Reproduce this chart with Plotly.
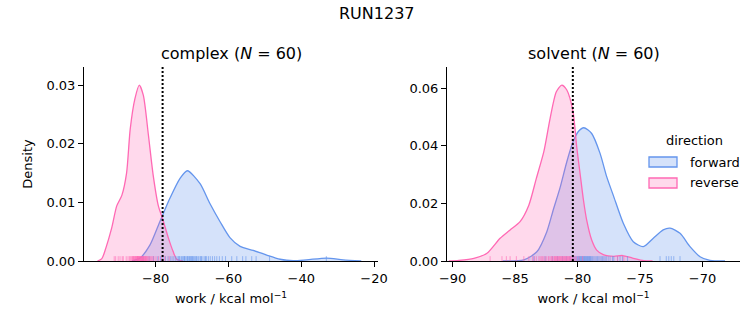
import plotly.graph_objects as go

W, H = 753, 325

# ---------------- data ----------------
phases = ["complex", "solvent"]
n_samples = [60, 60]
fe_estimate = [-78.1, -80.38]  # dotted vertical lines

# KDE curves (work in kcal/mol, density)
complex_fwd_x = [-86.5, -84.3, -81.6, -78.8, -76.1, -73.3, -71.3, -67.8, -65.1, -62.3, -59.6,
                 -56.8, -53.2, -49.5, -45.8, -42.2, -38.5, -33.0, -28.5, -23.5]
complex_fwd_d = [0.0, 0.0005, 0.0027, 0.0068, 0.0107, 0.0141, 0.0154, 0.0132, 0.0098, 0.0067, 0.0040,
                 0.0025, 0.0018, 0.0010, 0.0003, 0.00005, 0.0002, 0.0005, 0.0002, 0.0]
complex_rev_x = [-96.0, -94.8, -93.7, -92.1, -90.7, -89.3, -88.0, -87.0, -85.7, -84.5, -83.4,
                 -82.0, -80.7, -79.3, -78.1, -76.5, -75.2, -74.2, -72.5]
complex_rev_d = [0.0, 0.0004, 0.0022, 0.0056, 0.0094, 0.0112, 0.0150, 0.0225, 0.0277, 0.0300, 0.0283,
                 0.0215, 0.0147, 0.0095, 0.0072, 0.0039, 0.0016, 0.0003, 0.0]

solvent_fwd_x = [-86.0, -84.3, -83.26, -82.46, -81.93, -81.4, -80.86, -80.36, -79.94, -79.5, -78.87,
                 -78.2, -77.67, -77.14, -76.34, -75.54, -74.74, -73.94, -73.15, -72.6, -71.8, -71.0,
                 -70.2, -69.4, -68.2]
solvent_fwd_d = [0.0, 0.0004, 0.0032, 0.0102, 0.0180, 0.0255, 0.0345, 0.0414, 0.0450, 0.0463, 0.0443,
                 0.0374, 0.0293, 0.0228, 0.0131, 0.0067, 0.0050, 0.0079, 0.0108, 0.0114, 0.0096, 0.0050,
                 0.0015, 0.0002, 0.0]
solvent_rev_x = [-90.3, -89.5, -88.3, -87.25, -86.2, -85.4, -84.6, -83.9, -83.3, -82.7, -82.2, -81.7,
                 -81.26, -80.86, -80.36, -80.07, -79.8, -79.53, -79.27, -78.87, -78.47, -77.9, -77.1,
                 -76.4, -75.6, -74.7, -74.0]
solvent_rev_d = [0.0, 0.0002, 0.0009, 0.0027, 0.0079, 0.0108, 0.0137, 0.0194, 0.0287, 0.0380, 0.0495,
                 0.0588, 0.0611, 0.0594, 0.0518, 0.0397, 0.0304, 0.0212, 0.0142, 0.0073, 0.0038, 0.0021,
                 0.0016, 0.0019, 0.0010, 0.0001, 0.0]

# individual work values (rug), estimated from the tick marks
complex_fwd_w = [-83.5, -81.8, -80.6, -79.4, -78.7, -78.0, -77.3, -76.6, -76.0, -75.5, -75.0, -74.5,
                 -74.1, -73.7, -73.5, -73.3, -72.9, -72.6, -72.3, -72.1, -72.0, -71.7, -71.4, -71.2,
                 -71.1, -70.8, -70.6, -70.5, -70.2, -70.0, -69.9, -69.6, -69.3, -69.0, -68.8, -68.6,
                 -68.2, -67.8, -67.6, -67.4, -67.0, -66.5, -66.3, -66.0, -65.5, -65.0, -64.4, -63.8,
                 -63.2, -62.5, -61.7, -60.8, -59.1, -57.7, -56.1, -55.2, -53.6, -52.4, -48.7, -33.1]
complex_rev_w = [-91.4, -91.0, -90.3, -89.8, -89.2, -88.9, -88.1, -87.6, -87.2, -86.9, -86.6, -86.4,
                 -86.3, -86.1, -86.0, -85.9, -85.7, -85.6, -85.5, -85.3, -85.2, -85.1, -85.0, -84.95,
                 -84.9, -84.8, -84.7, -84.6, -84.5, -84.4, -84.3, -84.2, -84.1, -84.0, -83.9, -83.8,
                 -83.7, -83.6, -83.5, -83.4, -83.3, -83.2, -83.1, -82.9, -82.8, -82.7, -82.5, -82.4,
                 -82.2, -82.0, -81.7, -81.4, -81.1, -80.8, -80.5, -79.9, -79.2, -78.4, -77.5, -76.3]
solvent_fwd_w = [-83.5, -82.6, -82.0, -81.6, -81.2, -80.9, -80.6, -80.4, -80.3, -80.2, -80.1, -80.0,
                 -79.95, -79.9, -79.85, -79.8, -79.75, -79.7, -79.65, -79.6, -79.55, -79.5, -79.45,
                 -79.4, -79.35, -79.3, -79.25, -79.2, -79.15, -79.1, -79.05, -79.0, -78.95, -78.9,
                 -78.8, -78.7, -78.6, -78.5, -78.4, -78.3, -78.2, -78.1, -78.0, -77.9, -77.8, -77.7,
                 -77.55, -77.4, -77.2, -77.1, -76.8, -76.6, -76.4, -76.0, -73.4, -72.9, -72.7, -72.5,
                 -72.3, -71.8]
solvent_rev_w = [-87.0, -86.05, -85.7, -85.4, -84.9, -84.3, -83.9, -83.6, -83.45, -83.3, -83.1, -83.0,
                 -82.9, -82.8, -82.7, -82.6, -82.5, -82.35, -82.3, -82.2, -82.1, -82.05, -82.0, -81.9,
                 -81.85, -81.8, -81.75, -81.7, -81.65, -81.6, -81.55, -81.5, -81.45, -81.4, -81.35,
                 -81.3, -81.25, -81.2, -81.15, -81.1, -81.05, -81.0, -80.95, -80.9, -80.85, -80.8,
                 -80.75, -80.7, -80.65, -80.6, -80.55, -80.5, -80.4, -80.3, -80.2, -80.1, -79.9, -79.6,
                 -76.8, -76.3]

x_ticks = [[-80, -60, -40, -20], [-90, -85, -80, -75, -70]]
y_ticks = [[0.0, 0.01, 0.02, 0.03], [0.0, 0.02, 0.04, 0.06]]
x_ranges = [[-99.7, -18.9], [-90.45, -67.0]]
y_ranges = [[0, 0.0331], [0, 0.0674]]

directions = ["forward", "reverse"]
line_colors = {"forward": "#6495ED", "reverse": "#FF69B4"}
fill_colors = {"forward": "rgba(100,149,237,0.27)", "reverse": "rgba(255,105,180,0.25)"}
rug_colors = {"forward": "rgba(100,149,237,0.6)", "reverse": "rgba(255,105,180,0.6)"}

curves = {
    ("complex", "forward"): (complex_fwd_x, complex_fwd_d, complex_fwd_w),
    ("complex", "reverse"): (complex_rev_x, complex_rev_d, complex_rev_w),
    ("solvent", "forward"): (solvent_fwd_x, solvent_fwd_d, solvent_fwd_w),
    ("solvent", "reverse"): (solvent_rev_x, solvent_rev_d, solvent_rev_w),
}

# ---------------- layout geometry (pixels) ----------------
FONT = "DejaVu Sans"
TICK_SIZE = 13
TITLE_SIZE = 16
plot_px = [(84, 378), (447, 740)]
top_px, bot_px = 67, 261


def px_x(p):
    return p / W


def px_y(p):
    return 1 - p / H


fig = go.Figure()

for i, phase in enumerate(phases):
    xa = "x" if i == 0 else "x2"
    ya = "y" if i == 0 else "y2"
    rug_h = 0.025 * (y_ranges[i][1] - y_ranges[i][0])
    for d in directions:
        cx, cd, w = curves[(phase, d)]
        fig.add_trace(go.Scatter(
            x=cx, y=cd, mode="lines", xaxis=xa, yaxis=ya,
            line=dict(color=line_colors[d], width=1.3, shape="spline", smoothing=0.7),
            fill="tozeroy", fillcolor=fill_colors[d], showlegend=False, hoverinfo="skip"))
    for d in directions:
        cx, cd, w = curves[(phase, d)]
        rx, ry = [], []
        for v in w:
            rx += [v, v, None]
            ry += [0, rug_h, None]
        fig.add_trace(go.Scatter(
            x=rx, y=ry, mode="lines", xaxis=xa, yaxis=ya,
            line=dict(color=rug_colors[d], width=1), showlegend=False, hoverinfo="skip"))
    fig.add_shape(type="line", xref=xa, yref=f"{ya} domain", x0=fe_estimate[i], x1=fe_estimate[i],
                  y0=0, y1=1, line=dict(color="black", width=2, dash="2px,2px"))

axis_common = dict(showline=True, linecolor="black", linewidth=1, mirror=False, ticks="outside",
                   ticklen=5, tickwidth=1, tickcolor="black", showgrid=False, zeroline=False,
                   automargin=False,
                   tickfont=dict(family=FONT, size=TICK_SIZE, color="black"))
ydom = [px_y(bot_px), px_y(top_px)]
xtitle = dict(text="work / kcal mol<sup>−1</sup>", standoff=9,
              font=dict(family=FONT, size=TICK_SIZE, color="black"))

fig.update_layout(
    xaxis=dict(domain=[px_x(plot_px[0][0]), px_x(plot_px[0][1])], range=x_ranges[0],
               tickvals=x_ticks[0], anchor="y", title=xtitle, **axis_common),
    yaxis=dict(domain=ydom, range=y_ranges[0], tickvals=y_ticks[0], tickformat=".2f", anchor="x",
               title=dict(text="Density", standoff=10,
                          font=dict(family=FONT, size=TICK_SIZE, color="black")), **axis_common),
    xaxis2=dict(domain=[px_x(plot_px[1][0]), px_x(plot_px[1][1])], range=x_ranges[1],
                tickvals=x_ticks[1], anchor="y2", title=xtitle, **axis_common),
    yaxis2=dict(domain=ydom, range=y_ranges[1], tickvals=y_ticks[1], tickformat=".2f", anchor="x2",
                **axis_common),
    width=W, height=H, margin=dict(l=0, r=0, t=0, b=0, autoexpand=False),
    plot_bgcolor="white", paper_bgcolor="white", showlegend=False,
    font=dict(family=FONT, color="black"),
)

# titles
fig.add_annotation(text="RUN1237", x=0.5, y=px_y(13), xref="paper", yref="paper",
                   showarrow=False, font=dict(family=FONT, size=TITLE_SIZE, color="black"),
                   xanchor="center", yanchor="middle")
for i, phase in enumerate(phases):
    cx = (plot_px[i][0] + plot_px[i][1]) / 2
    fig.add_annotation(text=f"{phase} (<i>N</i> = {n_samples[i]})", x=px_x(cx), y=px_y(54),
                       xref="paper", yref="paper", showarrow=False,
                       font=dict(family=FONT, size=TITLE_SIZE, color="black"),
                       xanchor="center", yanchor="middle")

# legend (drawn manually to match patch style)
fig.add_annotation(text="direction", x=px_x(694.5), y=px_y(141), xref="paper", yref="paper",
                   showarrow=False, font=dict(family=FONT, size=TICK_SIZE, color="black"),
                   xanchor="center", yanchor="middle")
for j, d in enumerate(directions):
    yc = 162 + 21 * j
    fig.add_shape(type="rect", xref="paper", yref="paper",
                  x0=px_x(649), x1=px_x(677), y0=px_y(yc - 5), y1=px_y(yc + 5),
                  fillcolor=fill_colors[d], line=dict(color=line_colors[d], width=1.3))
    fig.add_annotation(text=d, x=px_x(688), y=px_y(yc), xref="paper", yref="paper",
                       showarrow=False, font=dict(family=FONT, size=TICK_SIZE, color="black"),
                       xanchor="left", yanchor="middle")

fig.write_html("out.html")
